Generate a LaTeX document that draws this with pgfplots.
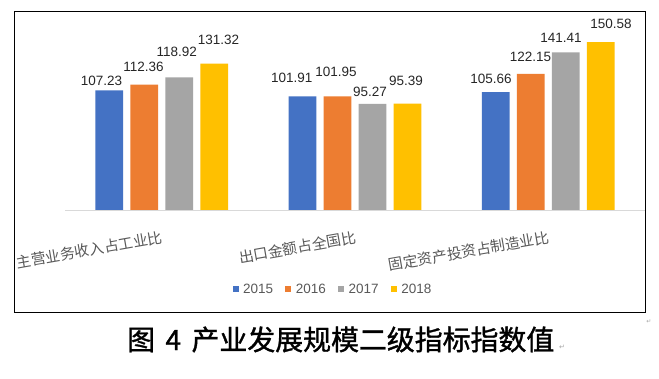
\documentclass[border=0pt]{standalone}
\usepackage{fontspec}
\setmainfont{Liberation Sans}
\newfontfamily\cjk{Noto Sans CJK SC}
\newfontfamily\cjkt[FakeBold=1.2]{Noto Sans CJK SC}
\newfontfamily\djv{DejaVu Sans}
\usepackage{pgfplots}
\pgfplotsset{compat=1.18}
\definecolor{cA}{HTML}{4472C4}
\definecolor{cB}{HTML}{ED7D31}
\definecolor{cC}{HTML}{A5A5A5}
\definecolor{cD}{HTML}{FFC000}
\definecolor{axisgray}{HTML}{D9D9D9}
\definecolor{ticktext}{HTML}{595959}
\definecolor{labtext}{HTML}{262626}
\begin{document}
\begin{tikzpicture}[x=1pt,y=1pt]
\fill[white] (0,0) rectangle (659,379);
\useasboundingbox (0,0) rectangle (659,379);
\draw[line width=0.9pt] (14.3,67) rectangle (645,367.7);
\begin{axis}[
  at={(65pt,169pt)}, anchor=south west,
  scale only axis, width=580pt, height=189.55pt,
  xmin=-0.5, xmax=2.5, ymin=0, ymax=170,
  ybar=7.3pt, bar width=27.7pt,
  axis x line*=bottom, axis y line=none,
  x axis line style={draw=axisgray, line width=0.8pt, -},
  xtick={0,1,2},
  xticklabels={主营业务收入占工业比,出口金额占全国比,固定资产投资占制造业比},
  major tick length=0pt, ytick=\empty,
  xticklabel style={font=\cjk\fontsize{14.8}{18}\selectfont, text=ticktext, inner sep=0pt, anchor=east, yshift=-27pt, xshift=1pt, rotate=10},
  clip=false,
  point meta=explicit symbolic,
  visualization depends on={\thisrow{dx}\as\dx},
  visualization depends on={\thisrow{dy}\as\dy},
  nodes near coords,
  nodes near coords style={font=\fontsize{13.5}{16}\selectfont, text=labtext, anchor=base, inner sep=0pt, xshift=\dx pt, yshift=\dy pt},
  legend columns=4,
  legend style={at={(0.4603,-0.4194)}, anchor=center, draw=none, fill=none, inner sep=0pt,
    font=\fontsize{13.5}{16}\selectfont, text=ticktext,
    nodes={inner sep=0pt},
    /tikz/every odd column/.append style={column sep=4.4pt},
    /tikz/every even column/.append style={column sep=12.3pt}},
]
\addplot[fill=cA, draw=none, legend image code/.code={\fill[cA] (0pt,-3pt) rectangle (6pt,3pt);}] table[x=x, y=y, meta=lab] {
x y dx dy lab
0 107.23 -7.7 5.4 107.23
1 101.91 -10.7 13.7 101.91
2 105.66 -4.8 8.9 105.66
};
\addplot[fill=cB, draw=none, legend image code/.code={\fill[cB] (0pt,-3pt) rectangle (6pt,3pt);}] table[x=x, y=y, meta=lab] {
x y dx dy lab
0 112.36 -0.7 13.0 112.36
1 101.95 -1.5 20.3 101.95
2 122.15 -0.3 12.1 122.15
};
\addplot[fill=cC, draw=none, legend image code/.code={\fill[cC] (0pt,-3pt) rectangle (6pt,3pt);}] table[x=x, y=y, meta=lab] {
x y dx dy lab
0 118.92 -2.5 20.7 118.92
1 95.27 -2.5 7.1 95.27
2 141.41 -4.8 9.6 141.41
};
\addplot[fill=cD, draw=none, legend image code/.code={\fill[cD] (0pt,-3pt) rectangle (6pt,3pt);}] table[x=x, y=y, meta=lab] {
x y dx dy lab
0 131.32 4.3 18.6 131.32
1 95.39 -1.5 18.3 95.39
2 150.58 10.2 13.8 150.58
};
\legend{2015,2016,2017,2018}
\end{axis}
\node[font=\cjkt\fontsize{27.9}{30}\selectfont, anchor=west, inner sep=0pt] at (127,39.5) {图\hspace{10.5pt}4\hspace{10.5pt}产业发展规模二级指标指数值};
\node[font=\djv\fontsize{7}{8}\selectfont, text=gray!70] at (562,32) {↵};
\node[font=\djv\fontsize{6}{7}\selectfont, text=gray!70] at (649,57) {↵};
\end{tikzpicture}
\end{document}
